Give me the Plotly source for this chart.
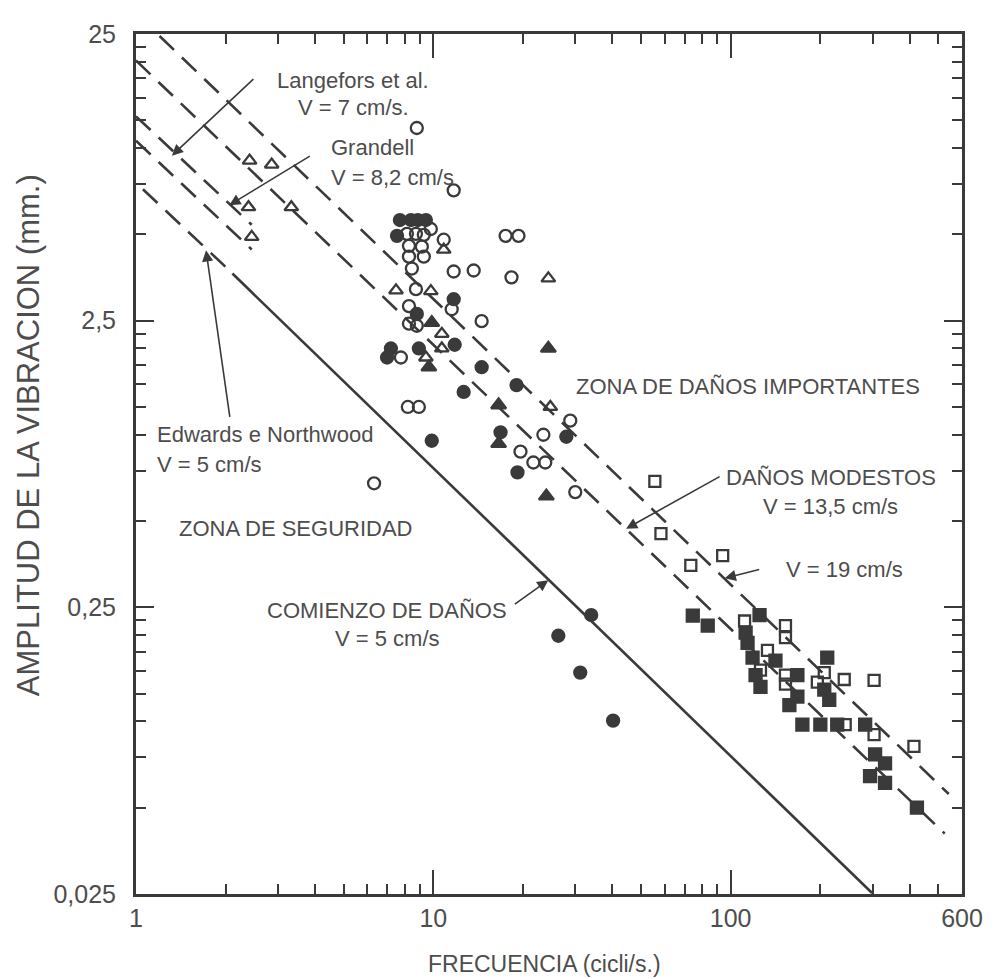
import plotly.graph_objects as go
import math

# ---------------- data ----------------
open_circle_f = [8.80, 11.71, 8.15, 8.74, 9.29, 9.81, 8.28, 9.15, 8.28, 9.29, 10.84, 17.50, 19.34,
                 8.47, 11.71, 13.67, 18.32, 8.74, 11.53, 8.28, 8.28, 8.80, 14.54, 7.78, 8.21, 8.94,
                 6.32, 28.88, 23.45, 19.64, 30.02, 21.7, 23.8]
open_circle_a = [11.75, 7.12, 5.02, 5.02, 4.98, 5.22, 4.56, 4.53, 4.18, 4.18, 4.79, 4.94, 4.94,
                 3.80, 3.71, 3.74, 3.54, 3.22, 2.74, 2.81, 2.44, 2.40, 2.49, 1.86, 1.25, 1.25,
                 0.677, 1.12, 1.00, 0.873, 0.631, 0.80, 0.80]

filled_circle_f = [7.72, 8.41, 8.87, 9.44, 7.55, 11.71, 8.80, 7.20, 6.99, 8.94, 11.80, 14.54,
                   19.05, 12.65, 28.01, 16.83, 9.88, 19.19, 33.96, 26.33, 31.20, 40.24]
filled_circle_a = [5.61, 5.61, 5.61, 5.61, 4.94, 2.97, 2.64, 2.00, 1.86, 2.00, 2.06, 1.72,
                   1.49, 1.41, 0.984, 1.02, 0.953, 0.739, 0.235, 0.199, 0.148, 0.1006]

open_triangle_f = [2.41, 2.86, 2.39, 3.33, 2.45, 10.84, 24.37, 7.49, 9.81, 10.68, 10.68, 9.44, 24.75]
open_triangle_a = [9.04, 8.76, 6.22, 6.22, 4.90, 4.42, 3.51, 3.19, 3.17, 2.25, 2.00, 1.86, 1.25]

filled_triangle_f = [9.88, 9.66, 16.58, 16.58, 24.00, 24.37]
filled_triangle_a = [2.46, 1.72, 1.27, 0.931, 0.611, 2.00]

open_square_f = [55.6, 58.29, 73.45, 94.02, 111.4, 152.9, 152.9, 126.0, 152.9, 152.9, 206.5,
                 195.7, 241.0, 303.7, 242.8, 303.7, 413.5, 133.0]
open_square_a = [0.688, 0.452, 0.350, 0.379, 0.224, 0.216, 0.196, 0.151, 0.145, 0.135, 0.148,
                 0.137, 0.140, 0.139, 0.0974, 0.0900, 0.0818, 0.177]

filled_square_f = [74.59, 83.74, 125.1, 114.0, 118.5, 141.5, 121.3, 126.0, 167.7, 211.3, 206.5,
                   214.6, 167.7, 157.6, 174.3, 200.3, 228.3, 283.4, 306.1, 330.6, 294.4, 330.6,
                   423.2, 112.3]
filled_square_a = [0.234, 0.216, 0.235, 0.188, 0.167, 0.163, 0.145, 0.132, 0.145, 0.167, 0.129,
                   0.119, 0.122, 0.114, 0.0974, 0.0974, 0.0974, 0.0974, 0.0767, 0.0714, 0.0644,
                   0.0610, 0.0500, 0.204]

# criteria lines (end points)
line_v19_f = [1.20, 541.7]
line_v19_a = [24.6, 0.0558]
line_v135_f = [1.0, 525.0]
line_v135_a = [20.2, 0.0406]
line_grandell_f = [1.0, 2.45]
line_grandell_a = [12.9, 5.4]
line_langefors_f = [1.0, 2.45]
line_langefors_a = [10.6, 4.43]
line_edwards_f = [1.055, 2.03]
line_edwards_a = [7.18, 3.80]
line_comienzo_f = [2.11, 299.0]
line_comienzo_a = [3.65, 0.0252]

x_tickvals = [1, 10, 100, 600]
x_ticktext = ["1", "10", "100", "600"]
x_minor = [2, 3, 4, 5, 6, 7, 8, 9, 20, 30, 40, 50, 60, 70, 80, 90, 200, 300, 400, 500]
y_tickvals = [0.025, 0.25, 2.5, 25]
y_ticktext = ["0,025", "0,25", "2,5", "25"]
y_minor = [0.05, 0.075, 0.1, 0.125, 0.15, 0.175, 0.2, 0.225,
           0.5, 0.75, 1.0, 1.25, 1.5, 1.75, 2.0, 2.25,
           5, 7.5, 10, 12.5, 15, 17.5, 20, 22.5]

INK = "#3a3a3a"
TXT = "#4d4d4d"
FONT = "Liberation Sans, Arial, sans-serif"

fig = go.Figure()

dash = "20px,11px"
for fx, ay, d in [(line_v19_f, line_v19_a, dash), (line_v135_f, line_v135_a, dash),
                  (line_grandell_f, line_grandell_a, dash), (line_langefors_f, line_langefors_a, dash),
                  (line_edwards_f, line_edwards_a, dash), (line_comienzo_f, line_comienzo_a, "solid")]:
    fig.add_trace(go.Scatter(x=fx, y=ay, mode="lines",
                             line=dict(color=INK, width=2.6, dash=d), hoverinfo="skip"))

def mk(fx, ay, symbol, size):
    fig.add_trace(go.Scatter(x=fx, y=ay, mode="markers",
                             marker=dict(symbol=symbol, size=size, color=INK,
                                         line=dict(color=INK, width=2.3))))

mk(open_circle_f, open_circle_a, "circle-open", 12)
mk(filled_circle_f, filled_circle_a, "circle", 12)
mk(open_triangle_f, open_triangle_a, "triangle-up-open", 12)
mk(filled_triangle_f, filled_triangle_a, "triangle-up", 13)
mk(open_square_f, open_square_a, "square-open", 11)
mk(filled_square_f, filled_square_a, "square", 12)

# texts
def txt(s, xp, yp, anchor="center", size=22):
    fig.add_annotation(text=s, xref="paper", yref="paper", x=xp, y=yp, showarrow=False,
                       xanchor=anchor, yanchor="middle",
                       font=dict(family=FONT, size=size, color=TXT))

txt("Langefors et al.", 0.263, 0.946)
txt("V = 7 cm/s.", 0.263, 0.915)
txt("Grandell", 0.234, 0.868, "left")
txt("V = 8,2 cm/s", 0.234, 0.833, "left")
txt("Edwards e Northwood", 0.0229, 0.534, "left")
txt("V = 5 cm/s", 0.0229, 0.499, "left")
txt("ZONA DE SEGURIDAD", 0.0495, 0.4246, "left")
txt("ZONA DE DAÑOS IMPORTANTES", 0.530, 0.5903, "left")
txt("DAÑOS MODESTOS", 0.8408, 0.4845)
txt("V = 13,5 cm/s", 0.8408, 0.451)
txt("V = 19 cm/s", 0.858, 0.3774)
txt("COMIENZO DE DAÑOS", 0.304, 0.330)
txt("V = 5 cm/s", 0.304, 0.297)

# arrows (tip on the line, tail offset in pixels)
def arr(f, a, ax, ay):
    fig.add_annotation(x=math.log10(f), y=math.log10(a), xref="x", yref="y", ax=ax, ay=ay,
                       showarrow=True, arrowhead=2, arrowsize=1.4, arrowwidth=1.6,
                       arrowcolor=INK, text="")

arr(1.32, 9.41, 83, -78)
arr(2.06, 6.32, 82, -50)
arr(1.72, 4.40, 24, 168)
arr(44.5, 0.470, 95, -53)
arr(95.5, 0.316, 36, -9)
arr(24.37, 0.311, -35, 25)

# axis titles
fig.add_annotation(text="FRECUENCIA (cicli/s.)", xref="paper", yref="paper", x=0.4946, y=-0.0817,
                   xanchor="center", yanchor="middle",
                   showarrow=False, font=dict(family=FONT, size=23, color=TXT))
fig.add_annotation(text="AMPLITUD DE LA VIBRACION (mm.)", xref="paper", yref="paper",
                   x=-0.1303, y=0.534, textangle=-90, xanchor="center", yanchor="middle",
                   showarrow=False, font=dict(family=FONT, size=31, color=TXT))

xr = [0, math.log10(600)]
yr = [math.log10(0.025), math.log10(25)]

fig.update_layout(
    width=987, height=971, margin=dict(l=128, r=30, t=17, b=85),
    paper_bgcolor="white", plot_bgcolor="white", showlegend=False,
    xaxis=dict(type="log", range=xr, tickvals=x_tickvals, ticktext=x_ticktext,
               ticks="inside", ticklen=24, tickwidth=2, tickcolor=INK,
               showline=True, linewidth=3, linecolor=INK, mirror="allticks",
               showgrid=False, zeroline=False,
               tickfont=dict(family=FONT, size=25, color=TXT),
               minor=dict(tickvals=x_minor, ticks="inside", ticklen=10, tickwidth=2,
                          tickcolor=INK, showgrid=False)),
    yaxis=dict(type="log", range=yr, tickvals=y_tickvals, ticktext=y_ticktext,
               ticks="inside", ticklen=18, tickwidth=2, tickcolor=INK,
               showline=True, linewidth=3, linecolor=INK, mirror="allticks",
               showgrid=False, zeroline=False, ticklabelstandoff=12,
               tickfont=dict(family=FONT, size=25, color=TXT),
               minor=dict(tickvals=y_minor, ticks="inside", ticklen=10, tickwidth=2,
                          tickcolor=INK, showgrid=False)),
)

fig.write_html("out.html")
